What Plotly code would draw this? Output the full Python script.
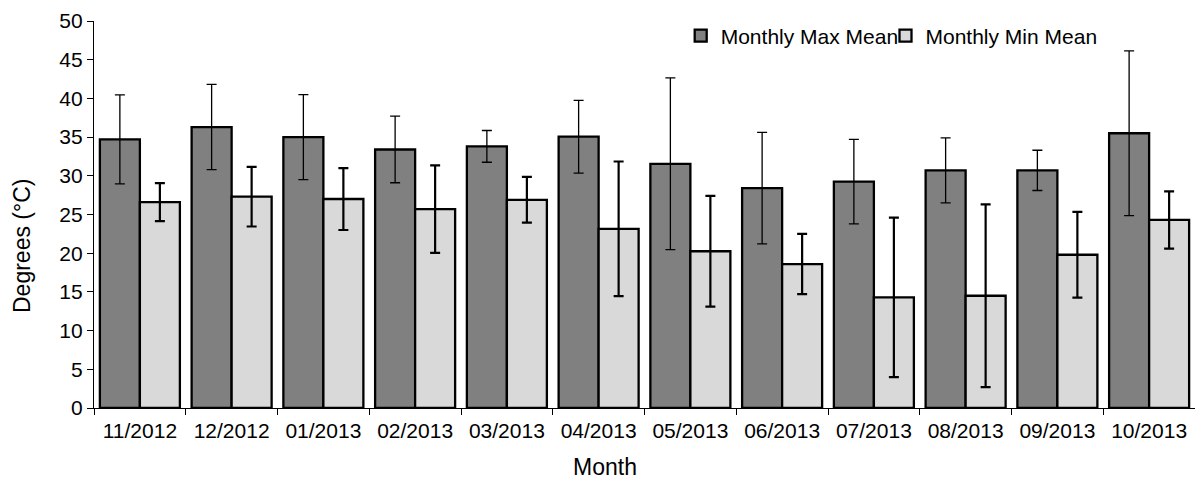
import plotly.graph_objects as go

months = ["11/2012", "12/2012", "01/2013", "02/2013", "03/2013", "04/2013",
          "05/2013", "06/2013", "07/2013", "08/2013", "09/2013", "10/2013"]
max_mean = [34.7, 36.3, 35.0, 33.4, 33.8, 35.05, 31.55, 28.4, 29.25, 30.7, 30.7, 35.5]
max_err = [5.75, 5.5, 5.5, 4.3, 2.05, 4.7, 11.1, 7.2, 5.45, 4.2, 2.6, 10.65]
min_mean = [26.6, 27.3, 27.0, 25.7, 26.9, 23.15, 20.25, 18.6, 14.3, 14.5, 19.8, 24.3]
min_err = [2.45, 3.85, 4.0, 5.65, 2.95, 8.7, 7.15, 3.9, 10.3, 11.8, 5.55, 3.7]

FONT = "Arial, Liberation Sans, sans-serif"
L, R, T, B = 94, 0, 21, 72
PW, PH = 1195 - L - R, 480 - T - B

fig = go.Figure()
fig.add_trace(go.Bar(
    x=months, y=max_mean, name="Monthly Max Mean", legend="legend",
    marker=dict(color="#808080", line=dict(color="black", width=2.3)),
    error_y=dict(type="data", array=max_err, visible=True, color="black",
                 thickness=1.3, width=5),
))
fig.add_trace(go.Bar(
    x=months, y=min_mean, name="Monthly Min Mean", legend="legend2",
    marker=dict(color="#d9d9d9", line=dict(color="black", width=2.3)),
    error_y=dict(type="data", array=min_err, visible=True, color="black",
                 thickness=2.2, width=5),
))

leg_common = dict(orientation="h", xref="paper", xanchor="left",
                  y=(480 - B - 36) / PH, yref="paper", yanchor="middle",
                  font=dict(family=FONT, size=21, color="black"),
                  bgcolor="rgba(0,0,0,0)")

fig.update_layout(
    width=1195, height=480,
    margin=dict(l=L, r=R, t=T, b=B, autoexpand=False),
    paper_bgcolor="white", plot_bgcolor="white",
    barmode="group", bargap=0.128, bargroupgap=0,
    font=dict(family=FONT, size=21, color="black"),
    showlegend=True,
    legend=dict(x=(680.7 - L) / PW, **leg_common),
    legend2=dict(x=(885.5 - L) / PW, **leg_common),
    xaxis=dict(
        type="category", range=[-0.5, 11.5], automargin=False,
        showline=True, linecolor="black", linewidth=1.3,
        ticks="outside", tickson="boundaries", ticklen=6, tickcolor="black",
        tickwidth=1.3, showgrid=False, ticklabelstandoff=4,
        tickfont=dict(family=FONT, size=21, color="black"),
    ),
    yaxis=dict(
        range=[0, 50], tickvals=[0, 5, 10, 15, 20, 25, 30, 35, 40, 45, 50],
        automargin=False, ticksuffix="\u00a0",
        showline=True, linecolor="black", linewidth=1.3,
        ticks="outside", ticklen=6, tickcolor="black", tickwidth=1.3,
        showgrid=False, zeroline=False,
        tickfont=dict(family=FONT, size=21, color="black"),
    ),
    annotations=[
        dict(text="Degrees (°C)", textangle=-90, xref="paper", yref="paper",
             x=(22 - L) / PW, y=(480 - B - 246) / PH, xanchor="center", yanchor="middle",
             showarrow=False, font=dict(family=FONT, size=23, color="black")),
        dict(text="Month", xref="paper", yref="paper",
             x=(605 - L) / PW, y=(480 - B - 466.7) / PH, xanchor="center", yanchor="middle",
             showarrow=False, font=dict(family=FONT, size=23, color="black")),
    ],
)

fig.write_html("out.html", config={"displayModeBar": False},
               post_script="document.body.style.margin='0';")
